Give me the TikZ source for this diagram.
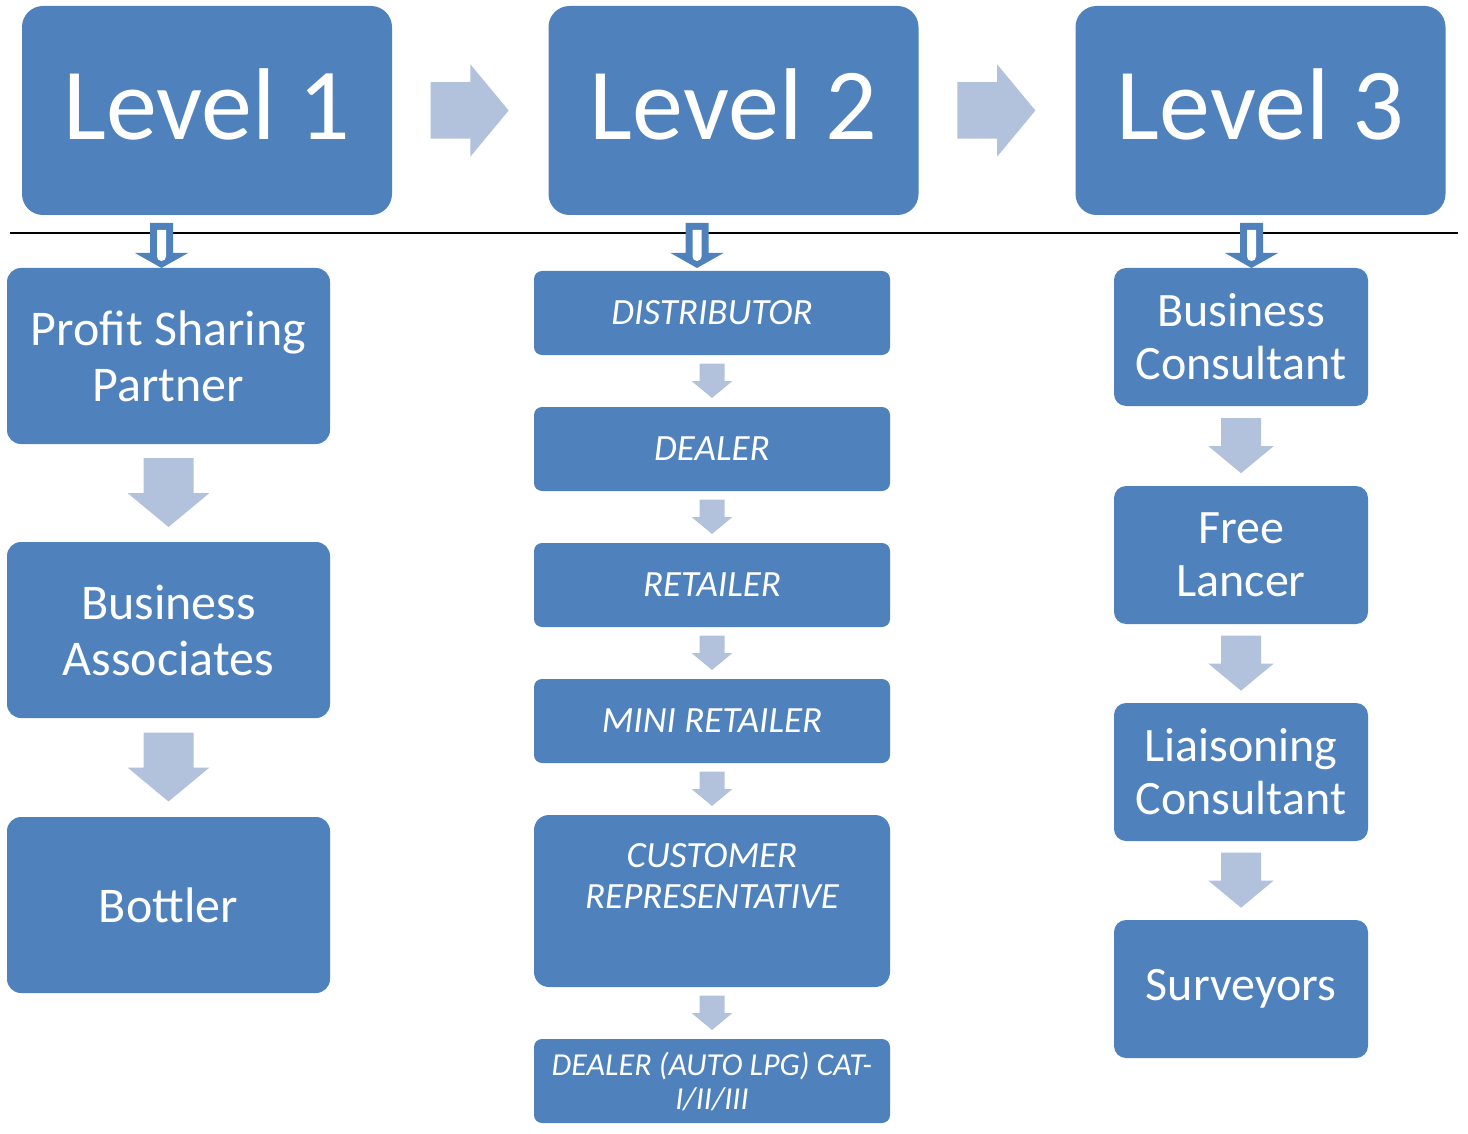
\documentclass[tikz,border=0pt]{standalone}
\usepackage{fontspec}
\setmainfont{Carlito}
\usetikzlibrary{calc}

\definecolor{boxblue}{HTML}{4F81BD}
\definecolor{arrowblue}{HTML}{B3C2DC}

\tikzset{
  levelbox/.style={fill=boxblue, text=white, rounded corners=21pt, inner sep=0pt,
    minimum width=370pt, minimum height=209pt, font=\fontsize{102}{110}\selectfont},
  onebox/.style={fill=boxblue, text=white, rounded corners=14pt, inner sep=0pt, align=center,
    minimum width=323pt, minimum height=176pt, font=\fontsize{50}{56}\selectfont},
  twobox/.style={fill=boxblue, text=white, rounded corners=8pt, inner sep=0pt, align=center,
    minimum width=356pt, minimum height=84pt, font=\itshape\fontsize{37}{41}\selectfont},
  twotext/.style={text=white, inner sep=0pt, align=center, font=\itshape\fontsize{37}{41}\selectfont},
  threebox/.style={fill=boxblue, text=white, rounded corners=12pt, inner sep=0pt, align=center,
    minimum width=254pt, minimum height=138pt, font=\fontsize{48}{53}\selectfont},
  blockarrow/.pic={
    \fill[arrowblue] (-25,-35) -- (25,-35) -- (25,0) -- (41,0) -- (0,34) -- (-41,0) -- (-25,0) -- cycle;
  },
  hollowarrow/.pic={
    \fill[boxblue] (-11.5,-22) -- (11.5,-22) -- (11.5,8) -- (26.5,8) -- (0,23) -- (-26.5,8) -- (-11.5,8) -- cycle;
    \fill[white] (-4.5,-15) [rounded corners=4.5pt] -- (-4.5,16) -- (4.5,16) [sharp corners] -- (4.5,-15) -- cycle;
  }
}

\begin{document}
\begin{tikzpicture}[x=1pt, y=-1pt]

\useasboundingbox (0,0) rectangle (1468,1134);

% levels
\node[levelbox] (lev1) at (207,110.5) {\raisebox{12pt}{Level 1}};
\node[levelbox] (lev2) at (733.5,110.5) {\raisebox{12pt}{Level 2}};
\node[levelbox] (lev3) at (1260.5,110.5) {\raisebox{12pt}{Level 3}};

\pic[scale=1.13, rotate=90] at ($(lev1.east)!0.5!(lev2.west)$) {blockarrow};
\pic[scale=1.13, rotate=90] at ($(lev2.east)!0.5!(lev3.west)$) {blockarrow};

\draw[line width=2pt] (10,233) -- (1458,233);

\pic at (161.5,245) {hollowarrow};
\pic at (697,245) {hollowarrow};
\pic at (1251.5,245) {hollowarrow};

% level 1 column
\node[onebox] (psp) at (168.5,356) {Profit Sharing\\Partner};
\node[onebox] (assoc) at (168.5,630) {Business\\Associates};
\node[onebox] (bottler) at (168.5,905) {Bottler};

\pic at ($(psp.south)!0.5!(assoc.north)$) {blockarrow};
\pic at ($(assoc.south)!0.5!(bottler.north)$) {blockarrow};

% level 2 column
\node[twobox] (dist) at (712,313) {DISTRIBUTOR};
\node[twobox] (dealer) at (712,449) {DEALER};
\node[twobox] (retail) at (712,585) {RETAILER};
\node[twobox] (mini) at (712,721) {MINI RETAILER};
\node[twobox, minimum height=172pt, rounded corners=15pt] (cust) at (712,901) {};
\node[twotext, anchor=north] (custtext) at ($(cust.north)+(0,28)$) {CUSTOMER\\REPRESENTATIVE};
\node[twobox, font=\itshape\fontsize{32}{34}\selectfont] (autolpg) at (712,1081) {DEALER (AUTO LPG) CAT-\\I/II/III};

\pic[scale=0.5] at ($(dist.south)!0.5!(dealer.north)$) {blockarrow};
\pic[scale=0.5] at ($(dealer.south)!0.5!(retail.north)$) {blockarrow};
\pic[scale=0.5] at ($(retail.south)!0.5!(mini.north)$) {blockarrow};
\pic[scale=0.5] at ($(mini.south)!0.5!(cust.north)$) {blockarrow};
\pic[scale=0.5] at ($(cust.south)!0.5!(autolpg.north)$) {blockarrow};

% level 3 column
\node[threebox] (bcons) at (1241,337) {Business\\Consultant};
\node[threebox] (free) at (1241,555) {Free\\Lancer};
\node[threebox] (liais) at (1241,772) {Liaisoning\\Consultant};
\node[threebox] (survey) at (1241,989) {Surveyors};

\pic[scale=0.8] at ($(bcons.south)!0.5!(free.north)$) {blockarrow};
\pic[scale=0.8] at ($(free.south)!0.5!(liais.north)$) {blockarrow};
\pic[scale=0.8] at ($(liais.south)!0.5!(survey.north)$) {blockarrow};

\end{tikzpicture}
\end{document}
